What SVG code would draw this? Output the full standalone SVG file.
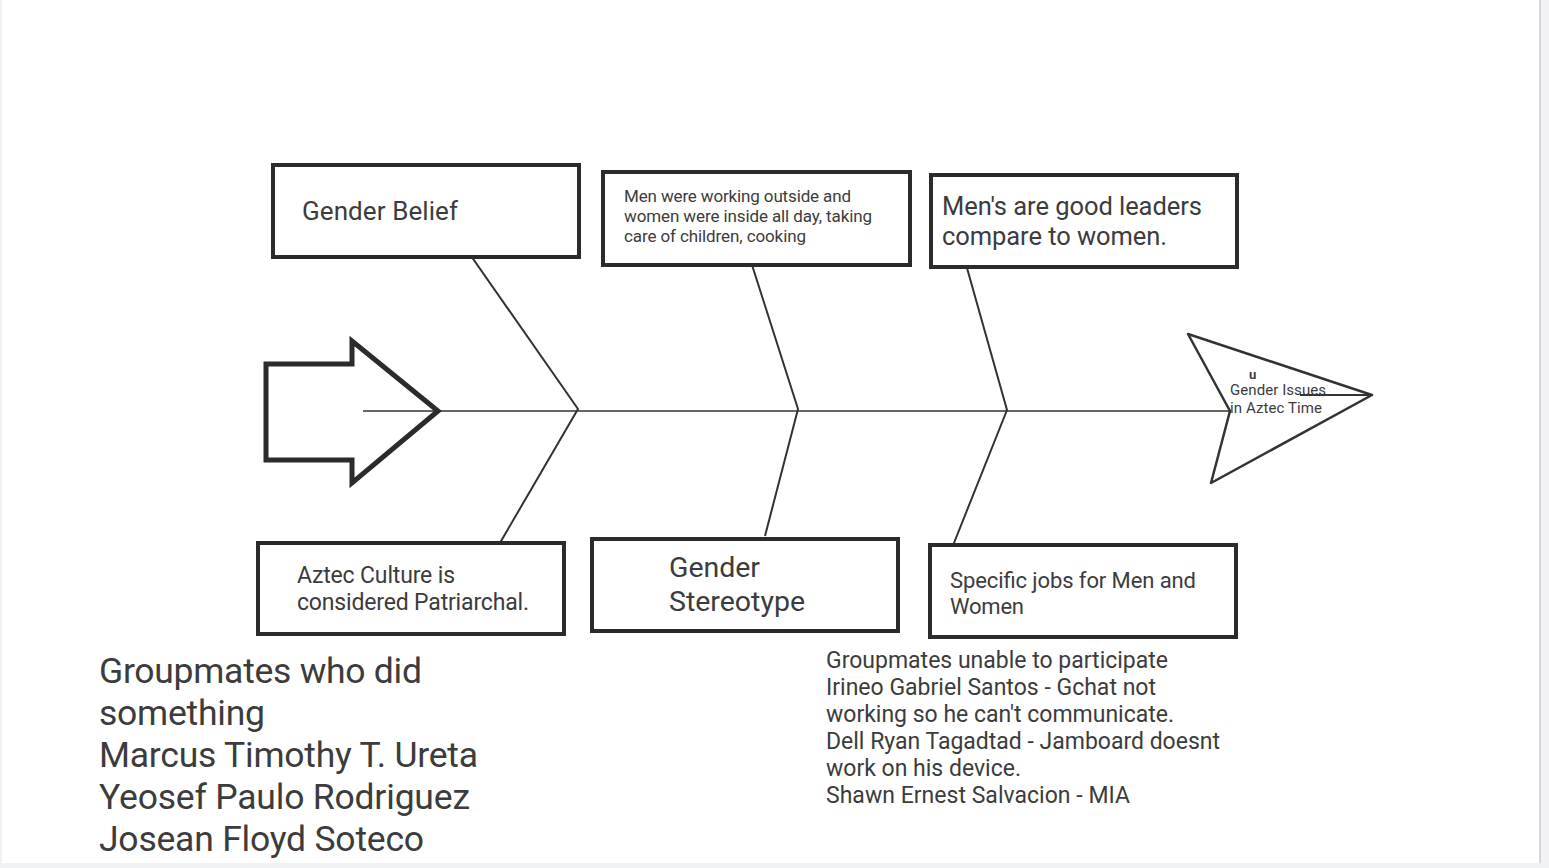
<svg xmlns="http://www.w3.org/2000/svg" width="1549" height="868" viewBox="0 0 1549 868">
<style>
.box{fill:#fff;stroke:#2b2b2b;stroke-width:4}
.bone{stroke:#333;stroke-width:2;fill:none}
.t{font-family:Roboto,"Liberation Sans",sans-serif;fill:#3c3c3c}
</style>
<rect x="0" y="0" width="1549" height="868" fill="#f1f2f4"/>
<rect x="2" y="0" width="1537" height="863" fill="#fff"/>
<rect x="1539" y="0" width="2" height="863" fill="#d6d6d9"/>

<g id="connectors">
<line x1="363" y1="411" x2="1230" y2="411" stroke="#666" stroke-width="2"/>
<polyline class="bone" points="469,253 578,409 497,548"/>
<polyline class="bone" points="752,265 798,409 765,536"/>
<polyline class="bone" points="967,268 1007,410 952,548"/>
</g>

<g id="tail-arrow">
<polygon points="266,364 352,364 352,341 438,411 352,483 352,460 266,460" fill="none" stroke="#2b2b2b" stroke-width="5" stroke-linejoin="miter"/>
</g>

<g id="head">
<polygon points="1188,334 1372,395 1211,483 1230,411" fill="none" stroke="#333" stroke-width="2.5" stroke-linejoin="round"/>
<line x1="1300" y1="395" x2="1372" y2="395" stroke="#333" stroke-width="2"/>
<text class="t" x="1249" y="379" font-size="13" font-weight="bold">u</text>
<text class="t" x="1230" y="395" font-size="15" textLength="96">Gender Issues</text>
<text class="t" x="1230" y="413" font-size="15" textLength="92">in Aztec Time</text>
</g>

<g id="gender-belief">
<rect class="box" x="273" y="165" width="306" height="92"/>
<text class="t" x="302" y="220" font-size="26" textLength="156">Gender Belief</text>
</g>

<g id="men-working">
<rect class="box" x="603" y="172" width="307" height="93"/>
<text class="t" x="624" y="202" font-size="17" textLength="227">Men were working outside and</text>
<text class="t" x="624" y="222" font-size="17" textLength="248">women were inside all day, taking</text>
<text class="t" x="624" y="242" font-size="17" textLength="182">care of children, cooking</text>
</g>

<g id="mens-leaders">
<rect class="box" x="931" y="175" width="306" height="92"/>
<text class="t" x="942" y="215" font-size="25.5" textLength="260">Men's are good leaders</text>
<text class="t" x="942" y="245" font-size="25.5" textLength="225">compare to women.</text>
</g>

<g id="aztec-culture">
<rect class="box" x="258" y="543" width="306" height="91"/>
<text class="t" x="297" y="583" font-size="23" textLength="158">Aztec Culture is</text>
<text class="t" x="297" y="610" font-size="23" textLength="232">considered Patriarchal.</text>
</g>

<g id="gender-stereotype">
<rect class="box" x="592" y="539" width="306" height="92"/>
<text class="t" x="669" y="577" font-size="28.5" textLength="91">Gender</text>
<text class="t" x="669" y="611" font-size="28.5" textLength="136">Stereotype</text>
</g>

<g id="specific-jobs">
<rect class="box" x="930" y="545" width="306" height="92"/>
<text class="t" x="950" y="588" font-size="22" textLength="246">Specific jobs for Men and</text>
<text class="t" x="950" y="614" font-size="22" textLength="74">Women</text>
</g>

<g id="groupmates-did">
<text class="t" x="99" y="683" font-size="35.5" textLength="323">Groupmates who did</text>
<text class="t" x="99" y="725" font-size="35.5" textLength="166">something</text>
<text class="t" x="99" y="767" font-size="35.5" textLength="379">Marcus Timothy T. Ureta</text>
<text class="t" x="99" y="809" font-size="35.5" textLength="371">Yeosef Paulo Rodriguez</text>
<text class="t" x="99" y="851" font-size="35.5" textLength="325">Josean Floyd Soteco</text>
</g>

<g id="groupmates-unable">
<text class="t" x="826" y="668" font-size="23" textLength="342">Groupmates unable to participate</text>
<text class="t" x="826" y="695" font-size="23" textLength="330">Irineo Gabriel Santos - Gchat not</text>
<text class="t" x="826" y="722" font-size="23" textLength="348">working so he can't communicate.</text>
<text class="t" x="826" y="749" font-size="23" textLength="394">Dell Ryan Tagadtad - Jamboard doesnt</text>
<text class="t" x="826" y="776" font-size="23" textLength="195">work on his device.</text>
<text class="t" x="826" y="803" font-size="23" textLength="304">Shawn Ernest Salvacion - MIA</text>
</g>
</svg>
